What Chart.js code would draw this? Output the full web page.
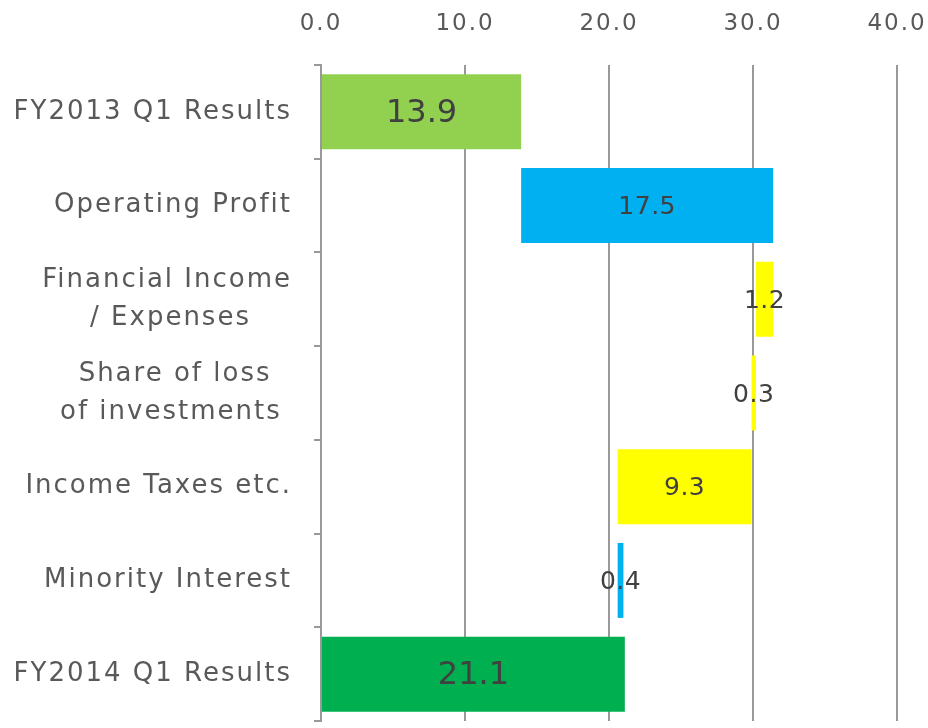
<!DOCTYPE html>
<html>
<head>
<meta charset="utf-8">
<script src="https://cdn.jsdelivr.net/npm/chart.js@4"></script>
<style>
  html, body { margin: 0; padding: 0; background: #fff; }
  #wrap { width: 928px; height: 728px; }
</style>
</head>
<body>
<div id="wrap"><canvas id="tabla" width="928" height="728"></canvas></div>
<script>
// Datos del gráfico (waterfall)
var categorias = [
    'FY2013 Q1 Results',
    'Operating Profit',
    ['Financial Income', '/ Expenses'],
    ['Share of loss', 'of investments'],
    'Income Taxes etc.',
    'Minority Interest',
    'FY2014 Q1 Results'
];
var valorInicial = 13.9;
var variaciones = [17.5, -1.2, -0.3, -9.3, 0.4];
var valorFinal = 21.1;
var colores = ['#92D050', '#00B0F0', '#FFFF00', '#FFFF00', '#FFFF00', '#00B0F0', '#00B050'];
var ticksX = [0, 10, 20, 30, 40];

// Construir los rangos flotantes
var rangos = [[0, valorInicial]];
var etiquetas = [valorInicial];
var acumulado = valorInicial;
variaciones.forEach(function (v) {
    rangos.push([acumulado, acumulado + v]);
    etiquetas.push(Math.abs(v));
    acumulado += v;
});
rangos.push([0, valorFinal]);
etiquetas.push(valorFinal);

const ctx = document.getElementById('tabla').getContext('2d');
const FUENTE = "'DejaVu Sans', sans-serif";

// Las etiquetas de dos líneas van centradas entre sí (como en Excel),
// se desplaza la segunda línea con espacios finales
function alinearLineas(label) {
    if (!Array.isArray(label)) return label;
    var extra = { 'Financial Income': ['', '    '], 'Share of loss': ['  ', ' '] }[label[0]] || ['', ''];
    return label.map(function (l, i) { return l + extra[i]; });
}

var espaciado = {
    id: 'espaciado',
    beforeUpdate: function (chart) { chart.ctx.letterSpacing = '2px'; },
    beforeDraw: function (chart) { chart.ctx.letterSpacing = '2px'; }
};

var etiquetasBarras = {
    id: 'etiquetasBarras',
    afterDatasetsDraw: function (chart) {
        var meta = chart.getDatasetMeta(0);
        var c = chart.ctx;
        c.save();
        c.fillStyle = '#404040';
        c.textAlign = 'center';
        c.textBaseline = 'middle';
        meta.data.forEach(function (bar, i) {
            var grande = (i === 0 || i === etiquetas.length - 1);
            c.font = (grande ? '32px ' : '25px ') + FUENTE;
            c.letterSpacing = grande ? '0px' : '0.5px';
            var p = bar.getCenterPoint();
            c.fillText(etiquetas[i].toFixed(1), p.x, p.y + 2);
        });
        c.restore();
    }
};

var miGrafico = new Chart(ctx, {
    type: 'bar',
    data: {
        labels: categorias,
        datasets: [{
            data: rangos,
            backgroundColor: colores,
            borderWidth: 0,
            categoryPercentage: 0.8,
            barPercentage: 1.0
        }]
    },
    options: {
        indexAxis: 'y',
        responsive: false,
        animation: false,
        layout: { padding: { left: 0, right: 31, top: 0, bottom: 7 } },
        plugins: {
            legend: { display: false },
            tooltip: { enabled: false }
        },
        scales: {
            x: {
                position: 'top',
                min: 0,
                max: 40,
                afterBuildTicks: function (scale) {
                    scale.ticks = ticksX.map(function (v) { return { value: v }; });
                },
                afterFit: function (scale) {
                    scale.height = 65;
                    scale.paddingLeft = 0;
                    scale.paddingRight = 0;
                },
                border: { display: false },
                grid: { color: '#999999', lineWidth: 2, drawTicks: false },
                ticks: {
                    padding: 27,
                    color: '#595959',
                    font: { family: FUENTE, size: 23 },
                    callback: function (v) { return Number(v).toFixed(1); }
                }
            },
            y: {
                afterFit: function (scale) {
                    scale.width = 321;
                    scale.paddingTop = 0;
                    scale.paddingBottom = 0;
                },
                border: { display: true, color: '#999999', width: 2 },
                grid: {
                    drawOnChartArea: false,
                    drawTicks: true,
                    tickLength: 7,
                    color: '#999999',
                    lineWidth: 2,
                    offset: true
                },
                ticks: {
                    padding: 22,
                    color: '#595959',
                    font: { family: FUENTE, size: 26, lineHeight: 1.46 },
                    callback: function (v, i) { return alinearLineas(categorias[i]); }
                }
            }
        }
    },
    plugins: [espaciado, etiquetasBarras]
});
</script>
</body>
</html>
